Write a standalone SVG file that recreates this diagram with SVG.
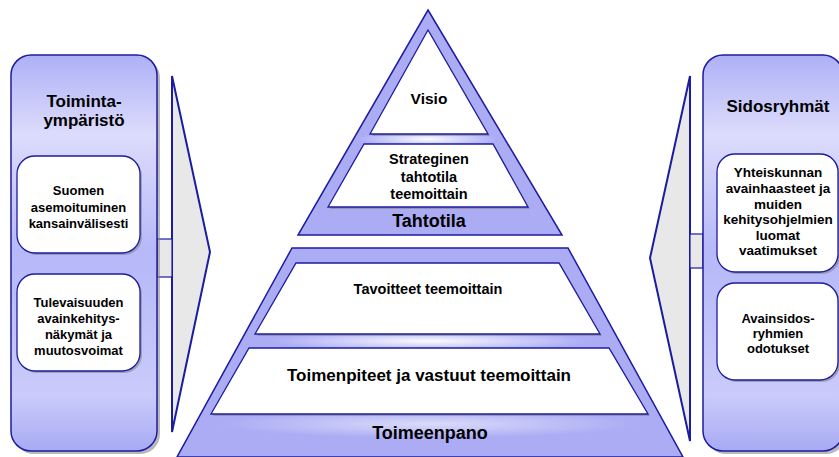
<svg xmlns="http://www.w3.org/2000/svg" width="839" height="457" viewBox="0 0 839 457">
<style>
.t{font-family:"Liberation Sans",Arial,sans-serif;font-weight:bold;fill:#000;text-anchor:middle}
.s13{font-size:13px}
.s135{font-size:13.5px}
.s14{font-size:14.5px}
.s15{font-size:15.5px}
.s17{font-size:17px}
.s18{font-size:18px}
.ln{stroke:#1c1ca0;stroke-width:1.5}
.panel{fill:url(#pg);stroke:#1c1ca0;stroke-width:1.5}
.box{fill:#fff;stroke:#1c1ca0;stroke-width:1.3}
.sh{fill:#808080;opacity:0.55}
.arr{fill:#e8e8e8;stroke:#1c1ca0;stroke-width:2}
.bar{fill:#e8e8e8;stroke:#1c1ca0;stroke-width:1.2}
.pyr{fill:#abacf4;stroke:#1c1ca0;stroke-width:1.5}
</style>
<defs>
<linearGradient id="pg" x1="0" y1="0" x2="0" y2="1">
<stop offset="0" stop-color="#aeb0f6"/>
<stop offset="0.2" stop-color="#dcdcfc"/>
<stop offset="0.5" stop-color="#b6b8f8"/>
<stop offset="0.86" stop-color="#cacbfa"/>
<stop offset="1" stop-color="#a8aaf4"/>
</linearGradient>
<radialGradient id="glow">
<stop offset="0" stop-color="#ffffff" stop-opacity="0.95"/>
<stop offset="1" stop-color="#ffffff" stop-opacity="0"/>
</radialGradient>
<clipPath id="ctop"><polygon points="428,10 562,235 298,235"/></clipPath>
<clipPath id="cbot"><polygon points="292,248 568,248 683,457 177,457"/></clipPath>
</defs>

<g id="connectors">
<polygon class="arr" points="172,76 210,252 172,432"/>
<rect class="bar" x="157" y="239" width="15" height="38"/>
<polygon class="arr" points="690,76 650,258 690,441"/>
<rect class="bar" x="690" y="234" width="13" height="34"/>
</g>

<g id="toimintaymparisto">
<rect class="sh" x="14" y="58" width="146" height="396" rx="20"/>
<rect class="panel" x="11" y="55" width="146" height="396" rx="20"/>
<text class="t s17" x="84" y="107">Toiminta-</text>
<text class="t s17" x="84" y="126">ympäristö</text>
</g>

<g id="suomen-asemoituminen">
<rect class="sh" x="19" y="158" width="123" height="97" rx="18"/>
<rect class="box" x="17" y="156" width="123" height="97" rx="18"/>
<text class="t s13" x="78.5" y="195">Suomen</text>
<text class="t s13" x="78.5" y="211.5">asemoituminen</text>
<text class="t s13" x="78.5" y="228">kansainvälisesti</text>
</g>

<g id="tulevaisuuden-avainkehitysnakymat">
<rect class="sh" x="19" y="276" width="123" height="97" rx="18"/>
<rect class="box" x="17" y="274" width="123" height="97" rx="18"/>
<text class="t s13" x="78.5" y="307">Tulevaisuuden</text>
<text class="t s13" x="78.5" y="323">avainkehitys-</text>
<text class="t s13" x="78.5" y="339">näkymät ja</text>
<text class="t s13" x="78.5" y="355">muutosvoimat</text>
</g>

<g id="sidosryhmat">
<rect class="sh" x="706" y="58" width="140" height="396" rx="20"/>
<rect class="panel" x="703" y="55" width="140" height="396" rx="20"/>
<text class="t s17" x="778" y="112">Sidosryhmät</text>
</g>

<g id="yhteiskunnan-avainhaasteet">
<rect class="sh" x="719" y="156" width="121" height="118" rx="18"/>
<rect class="box" x="717" y="154" width="121" height="118" rx="18"/>
<text class="t s135" x="778" y="177">Yhteiskunnan</text>
<text class="t s135" x="778" y="193">avainhaasteet ja</text>
<text class="t s135" x="778" y="208.5">muiden</text>
<text class="t s135" x="778" y="224">kehitysohjelmien</text>
<text class="t s135" x="778" y="239.5">luomat</text>
<text class="t s135" x="778" y="255">vaatimukset</text>
</g>

<g id="avainsidosryhmien-odotukset">
<rect class="sh" x="719" y="285" width="121" height="97" rx="18"/>
<rect class="box" x="717" y="283" width="121" height="97" rx="18"/>
<text class="t s13" x="778" y="323">Avainsidos-</text>
<text class="t s13" x="778" y="338">ryhmien</text>
<text class="t s13" x="778" y="353">odotukset</text>
</g>

<g id="tahtotila">
<polygon class="pyr" points="428,10 562,235 298,235"/>
<g clip-path="url(#ctop)">
<ellipse cx="428" cy="139" rx="70" ry="9" fill="url(#glow)"/>
</g>
<text class="t s18" x="429" y="227">Tahtotila</text>
</g>

<g id="visio">
<polygon class="sh" points="430,32 490,136 372,136"/>
<polygon class="box" points="428,30 488,134 370,134"/>
<text class="t s15" x="429" y="104">Visio</text>
</g>

<g id="strateginen-tahtotila">
<polygon class="sh" points="366,146 495,146 530,209 330,209"/>
<polygon class="box" points="364,144 493,144 528,207 328,207"/>
<text class="t s14" x="429" y="164">Strateginen</text>
<text class="t s14" x="429" y="181.5">tahtotila</text>
<text class="t s14" x="429" y="199">teemoittain</text>
</g>

<g id="toimeenpano">
<polygon class="pyr" points="292,248 568,248 683,457 177,457"/>
<g clip-path="url(#cbot)">
<ellipse cx="429" cy="341" rx="160" ry="10" fill="url(#glow)"/>
<ellipse cx="429" cy="424" rx="210" ry="14" fill="url(#glow)" opacity="0.6"/>
</g>
<text class="t s18" x="430" y="439">Toimeenpano</text>
</g>

<g id="tavoitteet-teemoittain">
<polygon class="sh" points="298,265 561,265 602,336 257,336"/>
<polygon class="box" points="296,263 559,263 600,334 255,334"/>
<text class="t s14" x="428" y="294">Tavoitteet teemoittain</text>
</g>

<g id="toimenpiteet-ja-vastuut">
<polygon class="sh" points="251,350 611,350 650,416 213,416"/>
<polygon class="box" points="249,348 609,348 648,414 211,414"/>
<text class="t s17" x="429" y="381">Toimenpiteet ja vastuut teemoittain</text>
</g>
</svg>
